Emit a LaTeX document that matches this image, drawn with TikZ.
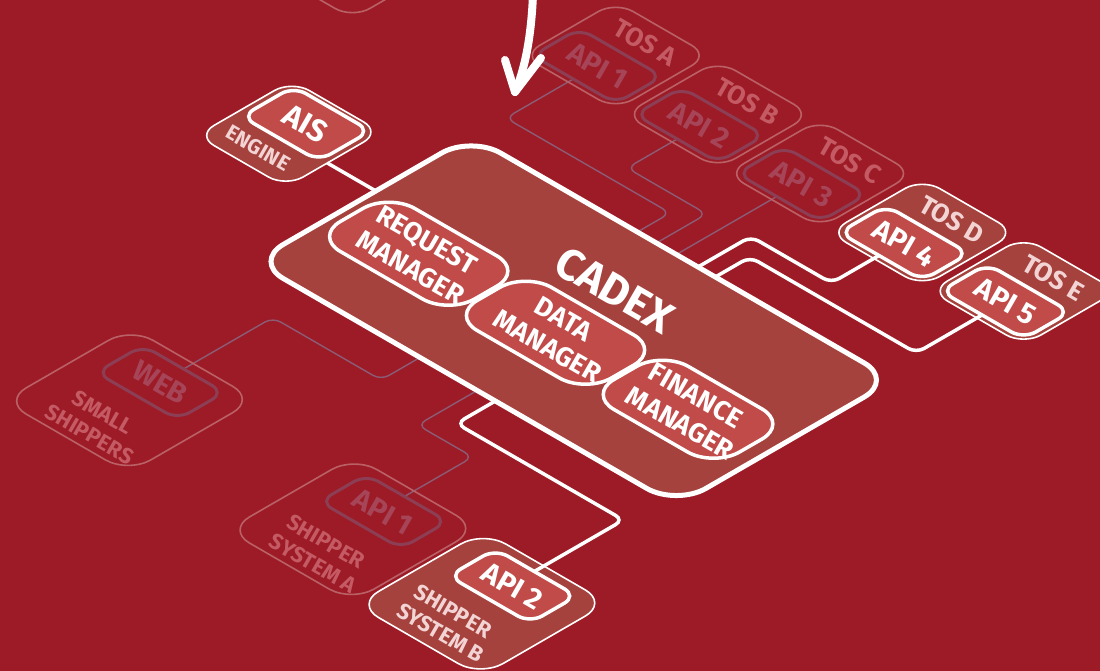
\documentclass[tikz,border=0pt]{standalone}
\usepackage{fontspec}
\setmainfont{Fira Sans}
\definecolor{bg}{RGB}{157,27,38}
\definecolor{cadexfill}{RGB}{166,66,61}
\definecolor{mgrfill}{RGB}{192,75,73}
\definecolor{pale}{RGB}{242,212,212}
\definecolor{fadeline}{RGB}{186,96,103}
\definecolor{fadeinner}{RGB}{140,62,85}
\definecolor{fadelabel}{RGB}{196,90,100}
\definecolor{fadeapi}{RGB}{166,68,88}
\definecolor{fadewire}{RGB}{140,92,118}
% rounded box in the isometric plane: style, s1, t1, s2, t2, radius
\newcommand\isorect[6]{\draw[#1] ({#2+#6},#3) -- ({#4-#6},#3) arc[start angle=-90,end angle=0,radius=#6] -- (#4,{#5-#6}) arc[start angle=0,end angle=90,radius=#6] -- ({#2+#6},#5) arc[start angle=90,end angle=180,radius=#6] -- (#2,{#3+#6}) arc[start angle=180,end angle=270,radius=#6] -- cycle;}
\begin{document}
\begin{tikzpicture}[x=1pt,y=1pt,
  wire/.style={white, line width=3.5pt, rounded corners=9pt},
  fwire/.style={fadewire, line width=1.4pt, rounded corners=9pt},
  big/.style={draw=white, line width=5pt, fill=cadexfill},
  mgr/.style={draw=white, line width=3.5pt, fill=mgrfill},
  outerbox/.style={draw=white, line width=1.6pt, fill=cadexfill},
  innerbox/.style={draw=white, line width=3.5pt, fill=mgrfill},
  fouter/.style={draw=fadeline, line width=1.6pt},
  finner/.style={draw=fadeinner, line width=3pt},
  lbl/.style={rotate=-30, inner sep=0pt, align=center},
  cadextxt/.style={lbl, text=white, font=\bfseries\fontsize{44}{50}\selectfont},
  mgrtxt/.style={lbl, text=white, font=\bfseries\fontsize{27}{32}\selectfont},
  apitxt/.style={lbl, text=white, font=\bfseries\fontsize{29}{32}\selectfont},
  aistxt/.style={lbl, text=white, font=\bfseries\fontsize{31}{34}\selectfont},
  tostxt/.style={lbl, text=pale, font=\bfseries\fontsize{26}{30}\selectfont},
  subtxt/.style={lbl, text=pale, font=\bfseries\fontsize{22}{25}\selectfont},
  engtxt/.style={lbl, text=pale, font=\bfseries\fontsize{21}{24}\selectfont},
  fapitxt/.style={lbl, text=fadeapi, font=\bfseries\fontsize{29}{32}\selectfont},
  ftostxt/.style={lbl, text=fadelabel, font=\bfseries\fontsize{26}{30}\selectfont},
  fsubtxt/.style={lbl, text=fadelabel, font=\bfseries\fontsize{22}{25}\selectfont},
]
\useasboundingbox (0,0) rectangle (1100,671);
\fill[bg] (0,0) rectangle (1100,671);
\clip (0,0) rectangle (1100,671);

\begin{scope}[cm={0.866,-0.5,0.866,0.5,(0,671)}]
  % ports on CADEX
  \coordinate (cx-e) at (600,136);
  \coordinate (cx-f) at (622,136);
  \coordinate (cx-g) at (645,136);
  \coordinate (cx-b) at (670,136);
  \coordinate (cx-c) at (690,136);
  \coordinate (cx-h) at (600,-115);
  \coordinate (cx-i) at (666,-115);
  \coordinate (cx-d) at (687,-115);
  \coordinate (cx-a) at (408,26);
  % ports on the other boxes
  \coordinate (tosA-in) at (410,252);
  \coordinate (tosB-in) at (530,252);
  \coordinate (tosC-in) at (645,252);
  \coordinate (tosD-in) at (763,252);
  \coordinate (tosE-in) at (882,252);
  \coordinate (web-in) at (475,-263);
  \coordinate (sysA-in) at (730,-263);
  \coordinate (sysB-in) at (880,-263);
  \coordinate (ais-out) at (352,26);
  % label anchors
  \coordinate (p-cadex) at (645,65);
  \coordinate (p-req) at (495.5,-12);
  \coordinate (p-data) at (653.5,-12);
  \coordinate (p-fin) at (806.5,-12);
  \coordinate (p-ais) at (300,53);
  \coordinate (p-engine) at (297,1);
  \coordinate (p-tosA) at (415,330);
  \coordinate (p-apiA) at (411,279);
  \coordinate (p-tosB) at (533,330);
  \coordinate (p-apiB) at (529,279);
  \coordinate (p-tosC) at (651,330);
  \coordinate (p-apiC) at (647,279);
  \coordinate (p-tosD) at (769,330);
  \coordinate (p-apiD) at (765,279);
  \coordinate (p-tosE) at (886,330);
  \coordinate (p-apiE) at (882,279);
  \coordinate (p-web) at (475,-290);
  \coordinate (p-small) at (479,-368);
  \coordinate (p-api1) at (733,-291);
  \coordinate (p-sysA) at (737,-368);
  \coordinate (p-api2) at (882,-290);
  \coordinate (p-sysB) at (880,-364);

  % faded connectors
  \draw[fwire] (cx-e) -- (600,174) -- (410,174) -- (tosA-in);
  \draw[fwire] (cx-f) -- (622,194) -- (530,194) -- (tosB-in);
  \draw[fwire] (cx-g) -- (tosC-in);
  \draw[fwire] (cx-h) -- (600,-160) -- (475,-160) -- (web-in);
  \draw[fwire] (cx-i) -- (666,-184) -- (730,-184) -- (sysA-in);

  % faded nodes
  \isorect{fouter}{82}{185}{222}{330}{20}
  \isorect{fouter}{357}{246}{465}{354}{20}
  \isorect{finner}{363}{252}{459}{306}{14}
  \isorect{fouter}{475}{246}{583}{354}{20}
  \isorect{finner}{481}{252}{577}{306}{14}
  \isorect{fouter}{593}{246}{701}{354}{20}
  \isorect{finner}{599}{252}{695}{306}{14}
  \isorect{fouter}{403}{-399}{547}{-252}{26}
  \isorect{finner}{428}{-317}{522}{-263}{14}
  \isorect{fouter}{661}{-399}{805}{-252}{26}
  \isorect{finner}{686}{-317}{780}{-263}{14}

  % active outer boxes
  \isorect{outerbox}{249}{-22}{352}{88}{20}
  \isorect{outerbox}{711}{246}{819}{354}{20}
  \isorect{outerbox}{828}{246}{936}{354}{20}
  \isorect{outerbox}{810}{-399}{954}{-252}{26}
  \isorect{big}{408}{-115}{896}{136}{34}

  % active connectors
  \draw[wire] (ais-out) -- (cx-a);
  \draw[wire] (cx-b) -- (670,197) -- (763,197) -- (tosD-in);
  \draw[wire] (cx-c) -- (690,176) -- (882,176) -- (tosE-in);
  \draw[wire] (cx-d) -- (687,-160) -- (880,-160) -- (sysB-in);

  % inner boxes and managers
  \isorect{innerbox}{256}{23}{345}{83}{14}
  \isorect{innerbox}{717}{252}{813}{306}{14}
  \isorect{innerbox}{834}{252}{930}{306}{14}
  \isorect{innerbox}{835}{-317}{929}{-263}{14}
  \isorect{mgr}{418}{-55}{573}{31}{30}
  \isorect{mgr}{576}{-55}{731}{31}{30}
  \isorect{mgr}{734}{-55}{879}{31}{30}
\end{scope}

% labels
\node[cadextxt] (t-cadex) at (p-cadex) {CADEX};
\node[mgrtxt] (t-req) at (p-req) {REQUEST\\MANAGER};
\node[mgrtxt] (t-data) at (p-data) {DATA\\MANAGER};
\node[mgrtxt] (t-fin) at (p-fin) {FINANCE\\MANAGER};
\node[aistxt] (t-ais) at (p-ais) {AIS};
\node[engtxt] (t-engine) at (p-engine) {ENGINE};
\node[ftostxt] (t-tosA) at (p-tosA) {TOS A};
\node[fapitxt] (t-apiA) at (p-apiA) {API 1};
\node[ftostxt] (t-tosB) at (p-tosB) {TOS B};
\node[fapitxt] (t-apiB) at (p-apiB) {API 2};
\node[ftostxt] (t-tosC) at (p-tosC) {TOS C};
\node[fapitxt] (t-apiC) at (p-apiC) {API 3};
\node[tostxt] (t-tosD) at (p-tosD) {TOS D};
\node[apitxt] (t-apiD) at (p-apiD) {API 4};
\node[tostxt] (t-tosE) at (p-tosE) {TOS E};
\node[apitxt] (t-apiE) at (p-apiE) {API 5};
\node[fapitxt] (t-web) at (p-web) {WEB};
\node[fsubtxt] (t-small) at (p-small) {SMALL\\SHIPPERS};
\node[fapitxt] (t-api1) at (p-api1) {API 1};
\node[fsubtxt] (t-sysA) at (p-sysA) {SHIPPER\\SYSTEM A};
\node[apitxt] (t-api2) at (p-api2) {API 2};
\node[subtxt] (t-sysB) at (p-sysB) {SHIPPER\\SYSTEM B};

% hand-drawn arrow
\coordinate (arr-s) at (533,676);
\coordinate (arr-t) at (515,579);
\coordinate (arr-l) at (505,611);
\coordinate (arr-r) at (541,613);
\draw[white, line width=8pt, line cap=round] (arr-s) .. controls (531,630) and (524,600) .. (arr-t);
\draw[white, line width=8pt, line cap=round, line join=round] (arr-l) -- (arr-t) -- (arr-r);
\end{tikzpicture}
\end{document}
